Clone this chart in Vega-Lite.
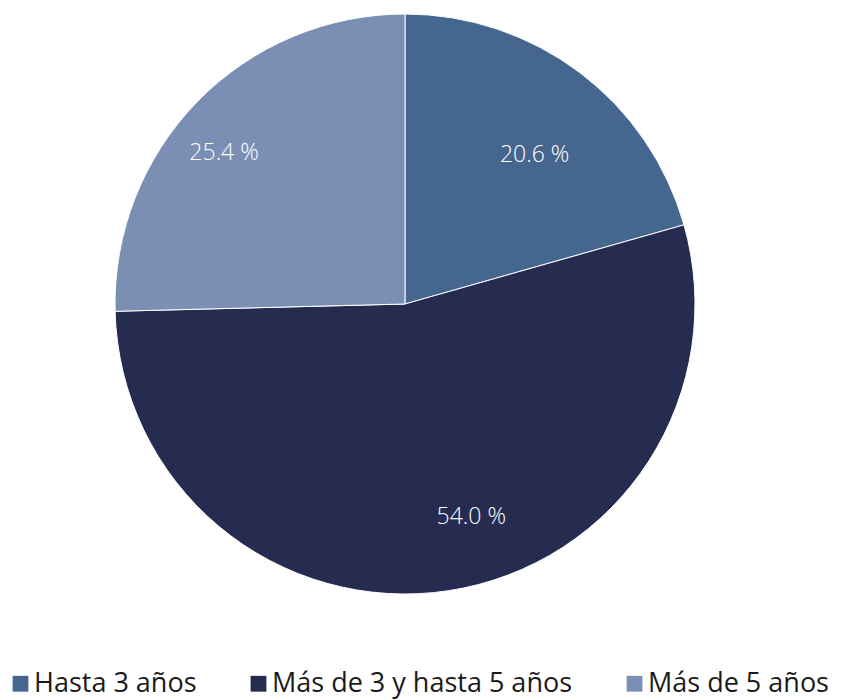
{
  "$schema": "https://vega.github.io/schema/vega-lite/v6.json",
  "width": 810,
  "height": 608,
  "padding": {"left": 0, "top": 0, "right": 31, "bottom": 92},
  "autosize": "none",
  "background": "white",
  "config": {"view": {"stroke": null}},
  "data": {"values": [
    {"cat": "Hasta 3 años", "val": 20.6, "lab": "20.6 %", "ord": 1},
    {"cat": "Más de 3 y hasta 5 años", "val": 54.0, "lab": "54.0 %", "ord": 2},
    {"cat": "Más de 5 años", "val": 25.4, "lab": "25.4 %", "ord": 3}
  ]},
  "encoding": {
    "theta": {"field": "val", "type": "quantitative", "stack": true},
    "order": {"field": "ord", "type": "quantitative"},
    "color": {
      "field": "cat", "type": "nominal",
      "sort": ["Hasta 3 años", "Más de 3 y hasta 5 años", "Más de 5 años"],
      "scale": {"domain": ["Hasta 3 años", "Más de 3 y hasta 5 años", "Más de 5 años"], "range": ["#45668e", "#262b50", "#7a8fb3"]},
      "legend": {
        "title": null, "orient": "none", "legendX": 7, "legendY": 670, "direction": "horizontal",
        "symbolType": "square", "symbolSize": 250, "symbolStrokeWidth": 0, "symbolOpacity": 1,
        "labelFont": "Open Sans", "labelFontSize": 27, "labelFontWeight": 400, "labelColor": "#1a1a1a",
        "labelOffset": 0, "columnPadding": 48, "labelLimit": 500
      }
    }
  },
  "layer": [
    {"mark": {"type": "arc", "outerRadius": 290, "stroke": "white", "strokeWidth": 1}},
    {"mark": {"type": "text", "radius": 215, "dy": 23, "font": "Open Sans", "fontSize": 23, "fontWeight": 300},
     "encoding": {"text": {"condition": {"test": "datum.cat === 'Hasta 3 años'", "field": "lab"}, "value": ""}, "color": {"value": "white"}}},
    {"mark": {"type": "text", "radius": 215, "dx": 34, "font": "Open Sans", "fontSize": 23, "fontWeight": 300},
     "encoding": {"text": {"condition": {"test": "datum.cat === 'Más de 3 y hasta 5 años'", "field": "lab"}, "value": ""}, "color": {"value": "white"}}},
    {"mark": {"type": "text", "radius": 215, "dx": -27, "dy": -1, "font": "Open Sans", "fontSize": 23, "fontWeight": 300},
     "encoding": {"text": {"condition": {"test": "datum.cat === 'Más de 5 años'", "field": "lab"}, "value": ""}, "color": {"value": "white"}}}
  ]
}
